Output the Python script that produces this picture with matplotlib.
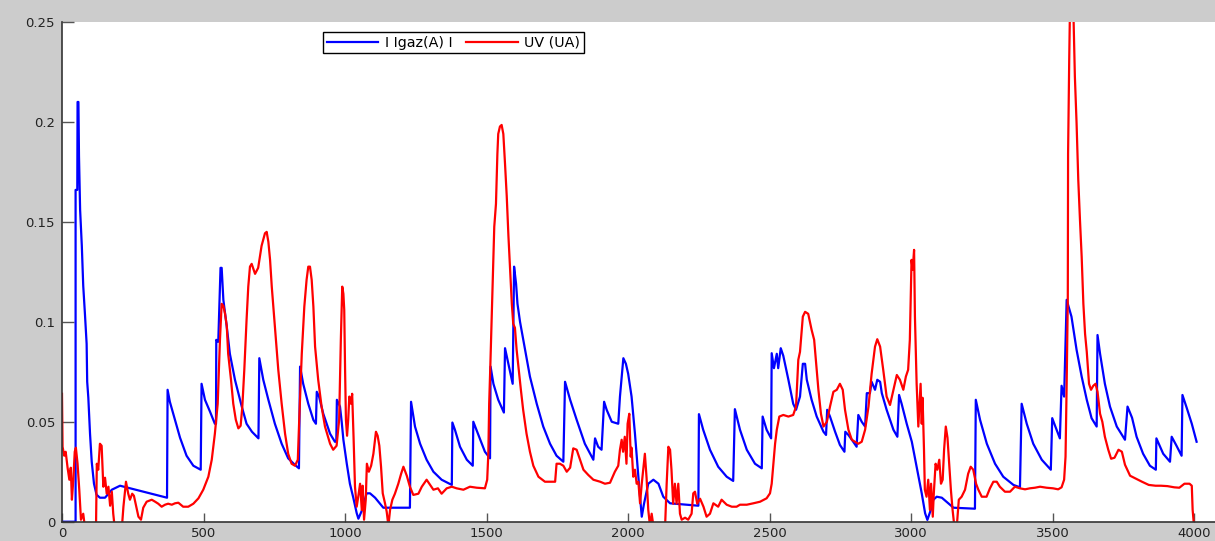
import matplotlib
matplotlib.use("Agg")
import matplotlib.pyplot as plt

# I Igaz(A) I  (blue)
blue_x = [0, 48, 48, 54, 55, 58, 60, 64, 70, 75, 81, 87, 89, 93, 99, 105, 113, 122, 134, 152,
          176, 205, 371, 373, 381, 393, 399, 417, 440, 464, 490, 493, 505, 523, 540, 544, 545, 552,
          560, 564, 570, 582, 593, 611, 635, 652, 671, 694, 697, 711, 729, 752, 776, 799, 823, 837,
          841, 852, 870, 888, 897, 900, 908, 923, 947, 964, 969, 971, 982, 988, 994, 1006, 1017,
          1029, 1041, 1047, 1059, 1076, 1088, 1106, 1135, 1229, 1233, 1247, 1265, 1288, 1312, 1341,
          1377, 1379, 1388, 1406, 1430, 1451, 1453, 1471, 1494, 1512, 1514, 1524, 1541, 1561, 1565,
          1577, 1592, 1597, 1604, 1609, 1618, 1636, 1653, 1677, 1700, 1724, 1747, 1771, 1777, 1795,
          1818, 1847, 1877, 1883, 1894, 1906, 1915, 1924, 1942, 1965, 1971, 1983, 1992, 2000, 2012,
          2024, 2036, 2044, 2048, 2056, 2071, 2089, 2107, 2124, 2148, 2248, 2250, 2265, 2289, 2318,
          2348, 2371, 2377, 2395, 2419, 2448, 2472, 2475, 2489, 2505, 2507, 2515, 2525, 2530, 2539,
          2548, 2566, 2583, 2593, 2607, 2617, 2625, 2631, 2648, 2666, 2690, 2699, 2703, 2713, 2731,
          2748, 2764, 2767, 2778, 2795, 2807, 2813, 2825, 2837, 2843, 2854, 2860, 2872, 2880, 2890,
          2896, 2913, 2937, 2951, 2957, 2966, 2984, 3002, 3019, 3037, 3049, 3057, 3069, 3078, 3090,
          3108, 3131, 3149, 3225, 3228, 3243, 3267, 3296, 3325, 3361, 3384, 3390, 3408, 3431, 3461,
          3493, 3498, 3508, 3525, 3531, 3540, 3549, 3566, 3584, 3602, 3620, 3637, 3655, 3658, 3667,
          3684, 3702, 3726, 3755, 3764, 3780, 3796, 3819, 3843, 3864, 3866, 3890, 3914, 3920, 3937,
          3955, 3958, 3973, 3991, 4008]
blue_y = [0, 0, 0.166, 0.166, 0.210, 0.210, 0.183, 0.156, 0.138, 0.118, 0.104, 0.089, 0.070, 0.062,
          0.044, 0.030, 0.019, 0.0135, 0.012, 0.012, 0.016, 0.018, 0.012, 0.066, 0.060, 0.054, 0.051,
          0.042, 0.033, 0.028, 0.026, 0.069, 0.061, 0.055, 0.049, 0.049, 0.091, 0.090, 0.127, 0.127,
          0.111, 0.0976, 0.084, 0.071, 0.0576, 0.049, 0.045, 0.0417, 0.0818, 0.071, 0.061, 0.049,
          0.039, 0.0317, 0.0284, 0.0267, 0.0776, 0.069, 0.059, 0.0509, 0.049, 0.065, 0.0626, 0.054,
          0.044, 0.040, 0.040, 0.061, 0.0576, 0.050, 0.041, 0.029, 0.019, 0.012, 0.0043, 0.0015,
          0.0055, 0.0142, 0.0142, 0.012, 0.007, 0.007, 0.060, 0.0476, 0.039, 0.031, 0.025, 0.021,
          0.0184, 0.0496, 0.046, 0.0375, 0.031, 0.028, 0.050, 0.0434, 0.035, 0.0317, 0.0776, 0.069,
          0.061, 0.0546, 0.0868, 0.079, 0.069, 0.1276, 0.119, 0.109, 0.100, 0.086, 0.0726, 0.059,
          0.0476, 0.039, 0.033, 0.030, 0.070, 0.061, 0.051, 0.039, 0.031, 0.0417, 0.0375, 0.036,
          0.060, 0.056, 0.050, 0.049, 0.0626, 0.0818, 0.079, 0.074, 0.0626, 0.044, 0.0225, 0.0092,
          0.0025, 0.009, 0.019, 0.021, 0.019, 0.0125, 0.0092, 0.008, 0.0538, 0.046, 0.036, 0.0275,
          0.0225, 0.0204, 0.0563, 0.046, 0.036, 0.029, 0.0267, 0.0526, 0.046, 0.0417, 0.0843, 0.0768,
          0.084, 0.0768, 0.0868, 0.083, 0.071, 0.059, 0.056, 0.0626, 0.079, 0.079, 0.071, 0.061,
          0.0526, 0.045, 0.0434, 0.056, 0.0526, 0.045, 0.0384, 0.035, 0.045, 0.0434, 0.040, 0.0375,
          0.0534, 0.050, 0.0476, 0.0643, 0.0643, 0.070, 0.066, 0.071, 0.070, 0.0643, 0.056, 0.046,
          0.0425, 0.0634, 0.059, 0.049, 0.040, 0.0275, 0.0142, 0.0042, 0.0009, 0.0059, 0.011, 0.0125,
          0.012, 0.0092, 0.007, 0.0065, 0.061, 0.051, 0.039, 0.029, 0.0225, 0.0184, 0.0172, 0.059,
          0.049, 0.039, 0.031, 0.026, 0.0518, 0.048, 0.0417, 0.068, 0.0626, 0.111, 0.1026, 0.086,
          0.0726, 0.061, 0.0518, 0.0476, 0.0934, 0.084, 0.069, 0.0576, 0.0476, 0.041, 0.0576, 0.052,
          0.0425, 0.034, 0.028, 0.026, 0.0417, 0.034, 0.030, 0.0425, 0.038, 0.033, 0.0634, 0.057,
          0.049, 0.040]

# UV (UA)  (red)
red_x = [0, 2, 8, 13, 20, 26, 31, 35, 40, 45, 49, 55, 61, 67, 75, 82, 120, 123, 128, 134, 140, 146,
         152, 158, 164, 170, 176, 181, 187, 211, 217, 226, 234, 240, 248, 254, 261, 270, 279, 287,
         299, 317, 329, 340, 352, 364, 375, 388, 399, 411, 428, 446, 464, 482, 499, 517, 529, 540,
         550, 558, 564, 570, 576, 582, 587, 597, 605, 614, 623, 631, 637, 644, 652, 658, 664, 670,
         682, 693, 705, 717, 723, 729, 735, 741, 752, 764, 776, 788, 799, 811, 823, 833, 838, 847,
         856, 864, 870, 876, 882, 888, 894, 905, 917, 929, 947, 958, 970, 979, 985, 990, 994, 997,
         1000, 1003, 1007, 1011, 1015, 1021, 1025, 1030, 1035, 1041, 1047, 1053, 1059, 1062, 1067,
         1073, 1077, 1084, 1092, 1100, 1109, 1115, 1121, 1127, 1133, 1141, 1147, 1153, 1159, 1167,
         1176, 1188, 1198, 1206, 1218, 1229, 1241, 1259, 1271, 1288, 1300, 1312, 1328, 1341, 1359,
         1377, 1394, 1418, 1441, 1465, 1494, 1502, 1506, 1509, 1513, 1520, 1527, 1533, 1538, 1541,
         1547, 1553, 1559, 1565, 1571, 1577, 1583, 1589, 1594, 1600, 1606, 1612, 1621, 1629, 1641,
         1653, 1665, 1683, 1706, 1724, 1742, 1747, 1759, 1771, 1783, 1795, 1806, 1818, 1830, 1842,
         1859, 1877, 1901, 1918, 1936, 1953, 1965, 1971, 1977, 1982, 1988, 1994, 1998, 2004, 2009,
         2012, 2018, 2024, 2030, 2036, 2042, 2048, 2053, 2059, 2065, 2071, 2077, 2083, 2089, 2101,
         2130, 2136, 2142, 2148, 2153, 2159, 2165, 2171, 2177, 2183, 2189, 2201, 2212, 2224, 2230,
         2236, 2244, 2254, 2266, 2277, 2289, 2301, 2318, 2330, 2348, 2366, 2383, 2395, 2419, 2442,
         2466, 2489, 2501, 2507, 2513, 2519, 2525, 2534, 2548, 2566, 2583, 2593, 2601, 2607, 2617,
         2625, 2636, 2648, 2657, 2666, 2672, 2681, 2690, 2702, 2713, 2725, 2737, 2748, 2758, 2766,
         2778, 2790, 2801, 2813, 2825, 2837, 2849, 2860, 2872, 2880, 2890, 2901, 2913, 2925, 2937,
         2949, 2960, 2972, 2981, 2989, 2995, 3001, 3005, 3010, 3013, 3019, 3025, 3028, 3033, 3037,
         3040, 3045, 3048, 3054, 3060, 3066, 3070, 3076, 3080, 3086, 3092, 3099, 3105, 3111, 3116,
         3122, 3128, 3134, 3140, 3146, 3152, 3160, 3168, 3178, 3190, 3201, 3210, 3219, 3229, 3237,
         3249, 3266, 3278, 3290, 3302, 3313, 3331, 3349, 3366, 3384, 3402, 3419, 3437, 3455, 3478,
         3501, 3519, 3531, 3540, 3545, 3549, 3553, 3554, 3558, 3561, 3572, 3578, 3584, 3590, 3596,
         3602, 3608, 3614, 3620, 3628, 3635, 3643, 3651, 3658, 3667, 3675, 3684, 3696, 3706, 3718,
         3732, 3744, 3755, 3773, 3791, 3815, 3839, 3863, 3882, 3905, 3929, 3947, 3965, 3983, 3991,
         3994, 4000]
red_y = [0.064, 0.0375, 0.033, 0.035, 0.0267, 0.021, 0.027, 0.011, 0.021, 0.035, 0.037, 0.029, 0.016,
         0.001, 0.004, -0.004, -0.004, 0.029, 0.026, 0.039, 0.038, 0.0175, 0.022, 0.014, 0.0175, 0.008,
         0.015, 0.004, -0.004, -0.004, 0.0075, 0.020, 0.014, 0.011, 0.014, 0.013, 0.0084, 0.0025, 0.001,
         0.007, 0.010, 0.011, 0.010, 0.009, 0.0075, 0.0085, 0.009, 0.0085, 0.0092, 0.0095, 0.0075,
         0.0075, 0.009, 0.0117, 0.016, 0.0225, 0.031, 0.044, 0.059, 0.091, 0.109, 0.108, 0.104, 0.098,
         0.084, 0.071, 0.059, 0.051, 0.0467, 0.048, 0.0576, 0.076, 0.101, 0.1176, 0.1276, 0.129, 0.124,
         0.127, 0.138, 0.1443, 0.145, 0.140, 0.131, 0.1176, 0.0976, 0.076, 0.059, 0.044, 0.034, 0.029,
         0.028, 0.031, 0.051, 0.084, 0.1076, 0.121, 0.1276, 0.1276, 0.121, 0.1076, 0.0876, 0.071,
         0.0576, 0.0476, 0.039, 0.036, 0.038, 0.051, 0.091, 0.1176, 0.114, 0.106, 0.076, 0.051, 0.043,
         0.051, 0.0626, 0.059, 0.064, 0.042, 0.0175, 0.0075, 0.013, 0.019, 0.0059, 0.018, 0.001, 0.011,
         0.029, 0.025, 0.028, 0.034, 0.045, 0.043, 0.038, 0.0275, 0.0142, 0.0092, 0.005, -0.002, 0.006,
         0.011, 0.014, 0.019, 0.024, 0.0275, 0.023, 0.0175, 0.0134, 0.014, 0.0175, 0.021, 0.0185, 0.016,
         0.0167, 0.014, 0.0167, 0.0175, 0.0167, 0.016, 0.0175, 0.017, 0.0167, 0.021, 0.034, 0.059,
         0.0776, 0.1126, 0.1476, 0.159, 0.184, 0.194, 0.1977, 0.1985, 0.194, 0.179, 0.163, 0.143, 0.126,
         0.109, 0.099, 0.097, 0.086, 0.078, 0.066, 0.056, 0.044, 0.035, 0.028, 0.0225, 0.020, 0.020,
         0.020, 0.029, 0.029, 0.028, 0.025, 0.027, 0.0367, 0.036, 0.031, 0.026, 0.0234, 0.021, 0.020,
         0.019, 0.0195, 0.025, 0.028, 0.036, 0.041, 0.035, 0.0425, 0.029, 0.049, 0.054, 0.0325, 0.037,
         0.0225, 0.026, 0.019, 0.020, 0.0092, 0.019, 0.026, 0.034, 0.022, 0.0059, -0.002, 0.004,
         -0.002, -0.004, -0.004, 0.019, 0.0375, 0.036, 0.026, 0.009, 0.019, 0.009, 0.019, 0.004, 0.001,
         0.002, 0.001, 0.004, 0.0142, 0.015, 0.009, 0.0115, 0.0075, 0.0025, 0.004, 0.0092, 0.0075,
         0.011, 0.0085, 0.0075, 0.0075, 0.0085, 0.0085, 0.0092, 0.010, 0.0117, 0.0142, 0.019, 0.029,
         0.039, 0.046, 0.0526, 0.0534, 0.0526, 0.0534, 0.0576, 0.081, 0.085, 0.1026, 0.105, 0.104,
         0.096, 0.091, 0.076, 0.066, 0.054, 0.0476, 0.050, 0.0576, 0.065, 0.066, 0.069, 0.066, 0.056,
         0.046, 0.041, 0.040, 0.039, 0.040, 0.046, 0.0576, 0.074, 0.0876, 0.0913, 0.0876, 0.076, 0.0626,
         0.0584, 0.066, 0.0734, 0.071, 0.066, 0.0726, 0.076, 0.091, 0.131, 0.126, 0.136, 0.1026, 0.069,
         0.0476, 0.056, 0.069, 0.049, 0.062, 0.036, 0.016, 0.0125, 0.021, 0.0059, 0.019, 0.0025, 0.015,
         0.029, 0.026, 0.031, 0.019, 0.021, 0.036, 0.0476, 0.042, 0.029, 0.016, 0.0059, -0.002, -0.004,
         0.011, 0.0125, 0.016, 0.024, 0.0275, 0.026, 0.019, 0.016, 0.0125, 0.0125, 0.0167, 0.020,
         0.020, 0.0175, 0.015, 0.015, 0.0175, 0.0167, 0.0162, 0.0167, 0.017, 0.0175, 0.017, 0.0167,
         0.0162, 0.0172, 0.021, 0.0325, 0.069, 0.111, 0.184, 0.231, 0.26, 0.26, 0.2227, 0.1994, 0.171,
         0.151, 0.1326, 0.109, 0.094, 0.085, 0.069, 0.066, 0.068, 0.069, 0.065, 0.054, 0.050, 0.0425,
         0.036, 0.0315, 0.032, 0.036, 0.035, 0.0285, 0.023, 0.0217, 0.020, 0.0184, 0.018, 0.018,
         0.0178, 0.0172, 0.017, 0.019, 0.019, 0.018, 0.0059, -0.004]

x_ticks = [0, 500, 1000, 1500, 2000, 2500, 3000, 3500, 4000]
y_ticks = [0, 0.05, 0.1, 0.15, 0.2, 0.25]
y_tick_labels = ['0', '0.05', '0.1', '0.15', '0.2', '0.25']

fig = plt.figure(figsize=(12.15, 5.41), dpi=100, facecolor='#cccccc')
ax = fig.add_axes([62 / 1215, 19.3 / 541, 1 - 62 / 1215, 499.7 / 541])
ax.set_facecolor('white')

ax.plot(blue_x, blue_y, color='#0000ff', linewidth=1.6, label='I Igaz(A) I')
ax.plot(red_x, red_y, color='#ff0000', linewidth=1.6, label='UV (UA)')

ax.set_xlim(0, 4073)
ax.set_ylim(0, 0.25)
ax.set_xticks(x_ticks)
ax.set_xticklabels([str(t) for t in x_ticks])
ax.set_yticks(y_ticks)
ax.set_yticklabels(y_tick_labels)

ax.tick_params(axis='y', direction='in', length=8.5, width=1, color='#555555',
               labelsize=9.5, labelcolor='#222222', pad=5)
ax.tick_params(axis='x', direction='in', length=6.5, width=1, color='#555555',
               labelsize=9.5, labelcolor='#222222', pad=4)

for side in ['top', 'right']:
    ax.spines[side].set_visible(False)
for side in ['left', 'bottom']:
    ax.spines[side].set_color('#333333')
    ax.spines[side].set_linewidth(1.2)

leg = ax.legend(loc='upper left', bbox_to_anchor=(323 / 1215, 1 - 32 / 541),
                bbox_transform=fig.transFigure, ncol=2, fontsize=10.3,
                handlelength=3.6, handletextpad=0.45, columnspacing=1.0,
                borderpad=0.25, borderaxespad=0, fancybox=False, framealpha=1)
leg.get_frame().set_edgecolor('black')
leg.get_frame().set_linewidth(1.0)

fig.savefig('out.png', dpi=100, facecolor=fig.get_facecolor())
